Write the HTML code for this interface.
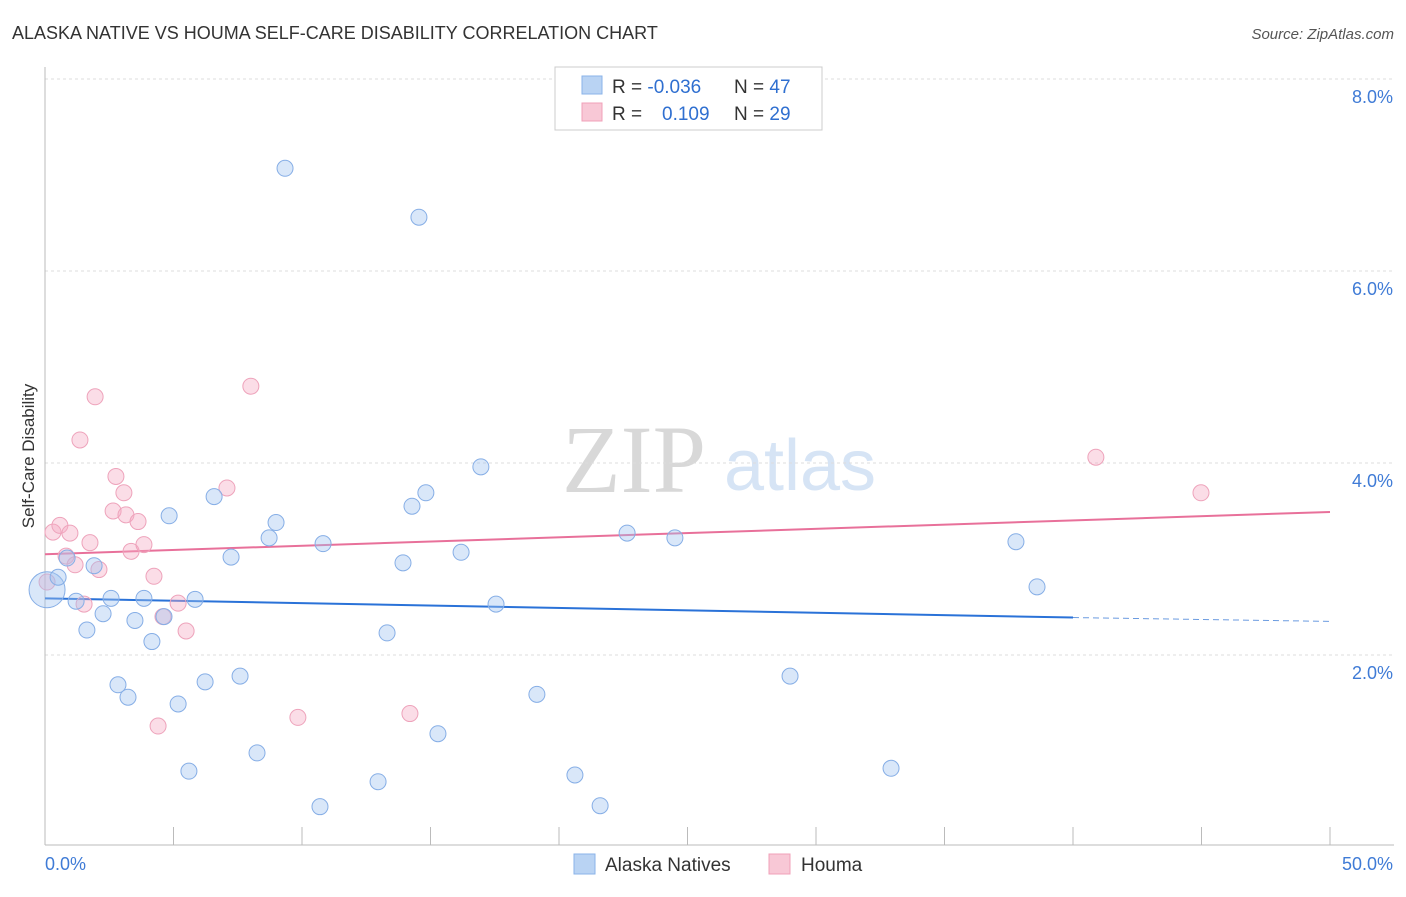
<!DOCTYPE html>
<html><head><meta charset="utf-8"><style>
body{margin:0;background:#fff;font-family:"Liberation Sans",sans-serif;}
svg text{font-family:"Liberation Sans",sans-serif;}
</style></head><body>
<svg id="c" width="1406" height="892">
<text x="12" y="39" font-size="18" fill="#333">ALASKA NATIVE VS HOUMA SELF-CARE DISABILITY CORRELATION CHART</text>
<text x="1394" y="39" font-size="15" fill="#555" font-style="italic" text-anchor="end">Source: ZipAtlas.com</text>
<g>
<text x="634" y="492" font-size="96" fill="#d8d8d8" style="font-family:'Liberation Serif',serif" text-anchor="middle">ZIP</text>
<text x="800" y="490" font-size="72" fill="#d6e4f5" text-anchor="middle">atlas</text>
</g>
<g id="grid"></g>
<g id="axes"></g>
<text transform="translate(34,456) rotate(-90)" font-size="17" fill="#333" text-anchor="middle">Self-Care Disability</text>
<g id="lines"></g>
<g id="pts"></g>
<g>
<rect x="555" y="67" width="267" height="63" fill="#fff" stroke="#ccc"/>
<rect x="582" y="76" width="20" height="18" fill="#b9d3f3" stroke="#8ab3e8"/>
<rect x="582" y="103" width="20" height="18" fill="#f8c8d6" stroke="#f0a0b8"/>
<text x="612" y="93" font-size="19" fill="#333">R = <tspan fill="#2f6fd0">-0.036</tspan></text>
<text x="734" y="93" font-size="19" fill="#333">N = <tspan fill="#2f6fd0">47</tspan></text>
<text x="612" y="120" font-size="19" fill="#333">R = </text>
<text x="662" y="120" font-size="19" fill="#2f6fd0">0.109</text>
<text x="734" y="120" font-size="19" fill="#333">N = <tspan fill="#2f6fd0">29</tspan></text>
</g>
<g>
<rect x="574" y="854" width="21" height="20" fill="#b9d3f3" stroke="#8ab3e8"/>
<text x="605" y="871" font-size="19" fill="#333">Alaska Natives</text>
<rect x="769" y="854" width="21" height="20" fill="#f8c8d6" stroke="#f0a0b8"/>
<text x="801" y="871" font-size="19" fill="#333">Houma</text>
</g>
</svg>
<script>
const yTicks=[2,4,6,8];
const yTickLabels=["2.0%","4.0%","6.0%","8.0%"];
const xTicks=[0,5,10,15,20,25,30,35,40,45,50];
const xEndLabels=["0.0%","50.0%"];
const blueX=[0.08,0.51,0.86,1.21,1.63,1.91,2.26,2.57,2.84,3.23,3.50,3.85,4.16,4.63,4.83,5.18,5.60,5.84,6.23,6.58,7.24,7.59,8.25,8.72,8.99,9.34,10.70,10.82,12.96,13.31,13.93,14.28,14.55,14.82,15.29,16.19,16.96,17.55,19.14,20.62,21.60,22.65,24.51,28.99,32.92,37.78,38.60];
const blueY=[2.68,2.81,3.01,2.56,2.26,2.93,2.43,2.59,1.69,1.56,2.36,2.59,2.14,2.40,3.45,1.49,0.79,2.58,1.72,3.65,3.02,1.78,0.98,3.22,3.38,7.07,0.42,3.16,0.68,2.23,2.96,3.55,6.56,3.69,1.18,3.07,3.96,2.53,1.59,0.75,0.43,3.27,3.22,1.78,0.82,3.18,2.71];
const pinkX=[0.08,0.31,0.58,0.82,0.97,1.17,1.52,1.75,1.95,1.36,2.10,2.65,2.76,3.07,3.15,3.35,3.62,3.85,4.24,4.59,5.18,5.49,4.40,7.08,8.01,9.84,14.20,40.89,44.98];
const pinkY=[2.76,3.28,3.35,3.03,3.27,2.94,2.53,3.17,4.69,4.24,2.89,3.50,3.86,3.69,3.46,3.08,3.39,3.15,2.82,2.40,2.54,2.25,1.26,3.74,4.80,1.35,1.39,4.06,3.69];
const blueTrend=[2.59,2.39,2.35];
const pinkTrend=[3.05,3.49];
const X=v=>45+v*25.7, Y=v=>847-v*96;
const NS="http://www.w3.org/2000/svg";
function mk(p,t,a){const e=document.createElementNS(NS,t);for(const k in a)e.setAttribute(k,a[k]);p.appendChild(e);return e;}
const grid=document.getElementById('grid'),axes=document.getElementById('axes');
yTicks.forEach((t,i)=>{
 const l=mk(grid,'line',{x1:45,x2:1394,y1:Y(t),y2:Y(t),stroke:'#ddd','stroke-dasharray':'3,3'});
 
 
 const tx=mk(axes,'text',{x:1393,y:Y(t)+24,'font-size':18,fill:'#3f7bd6','text-anchor':'end'});
 tx.textContent=yTickLabels[i];
 
 
});
const ya=mk(axes,'line',{x1:45,x2:45,y1:67,y2:845,stroke:'#bbb'});


const xa=mk(axes,'line',{x1:45,x2:1394,y1:845,y2:845,stroke:'#bbb'});


xTicks.forEach(t=>{
 const l=mk(axes,'line',{x1:X(t),x2:X(t),y1:827,y2:845,stroke:'#bbb'});
 
 
});
const xl0=mk(axes,'text',{x:45,y:870,'font-size':18,fill:'#3f7bd6'});xl0.textContent=xEndLabels[0];


const xl1=mk(axes,'text',{x:1393,y:870,'font-size':18,fill:'#3f7bd6','text-anchor':'end'});xl1.textContent=xEndLabels[1];


const pts=document.getElementById('pts');
pinkX.forEach((x,i)=>{
 const c=mk(pts,'circle',{cx:X(x),cy:Y(pinkY[i]),r:8,fill:'rgba(245,170,195,0.4)',stroke:'#eea3bb','stroke-width':1});
 
 
});
blueX.forEach((x,i)=>{
 const c=mk(pts,'circle',{cx:X(x),cy:Y(blueY[i]),r:i===0?18:8,fill:'rgba(160,196,240,0.4)',stroke:'#86aee6','stroke-width':1});
 
 
});
const lines=document.getElementById('lines');
const b1=mk(lines,'line',{x1:X(0),y1:Y(blueTrend[0]),x2:X(40),y2:Y(blueTrend[1]),stroke:'#2a72d8','stroke-width':2});


const b2=mk(lines,'line',{x1:X(40),y1:Y(blueTrend[1]),x2:X(50),y2:Y(blueTrend[2]),stroke:'#6b9be0','stroke-width':1,'stroke-dasharray':'6,4'});


const p1=mk(lines,'line',{x1:X(0),y1:Y(pinkTrend[0]),x2:X(50),y2:Y(pinkTrend[1]),stroke:'#e8709a','stroke-width':2});


</script>
</body></html>
